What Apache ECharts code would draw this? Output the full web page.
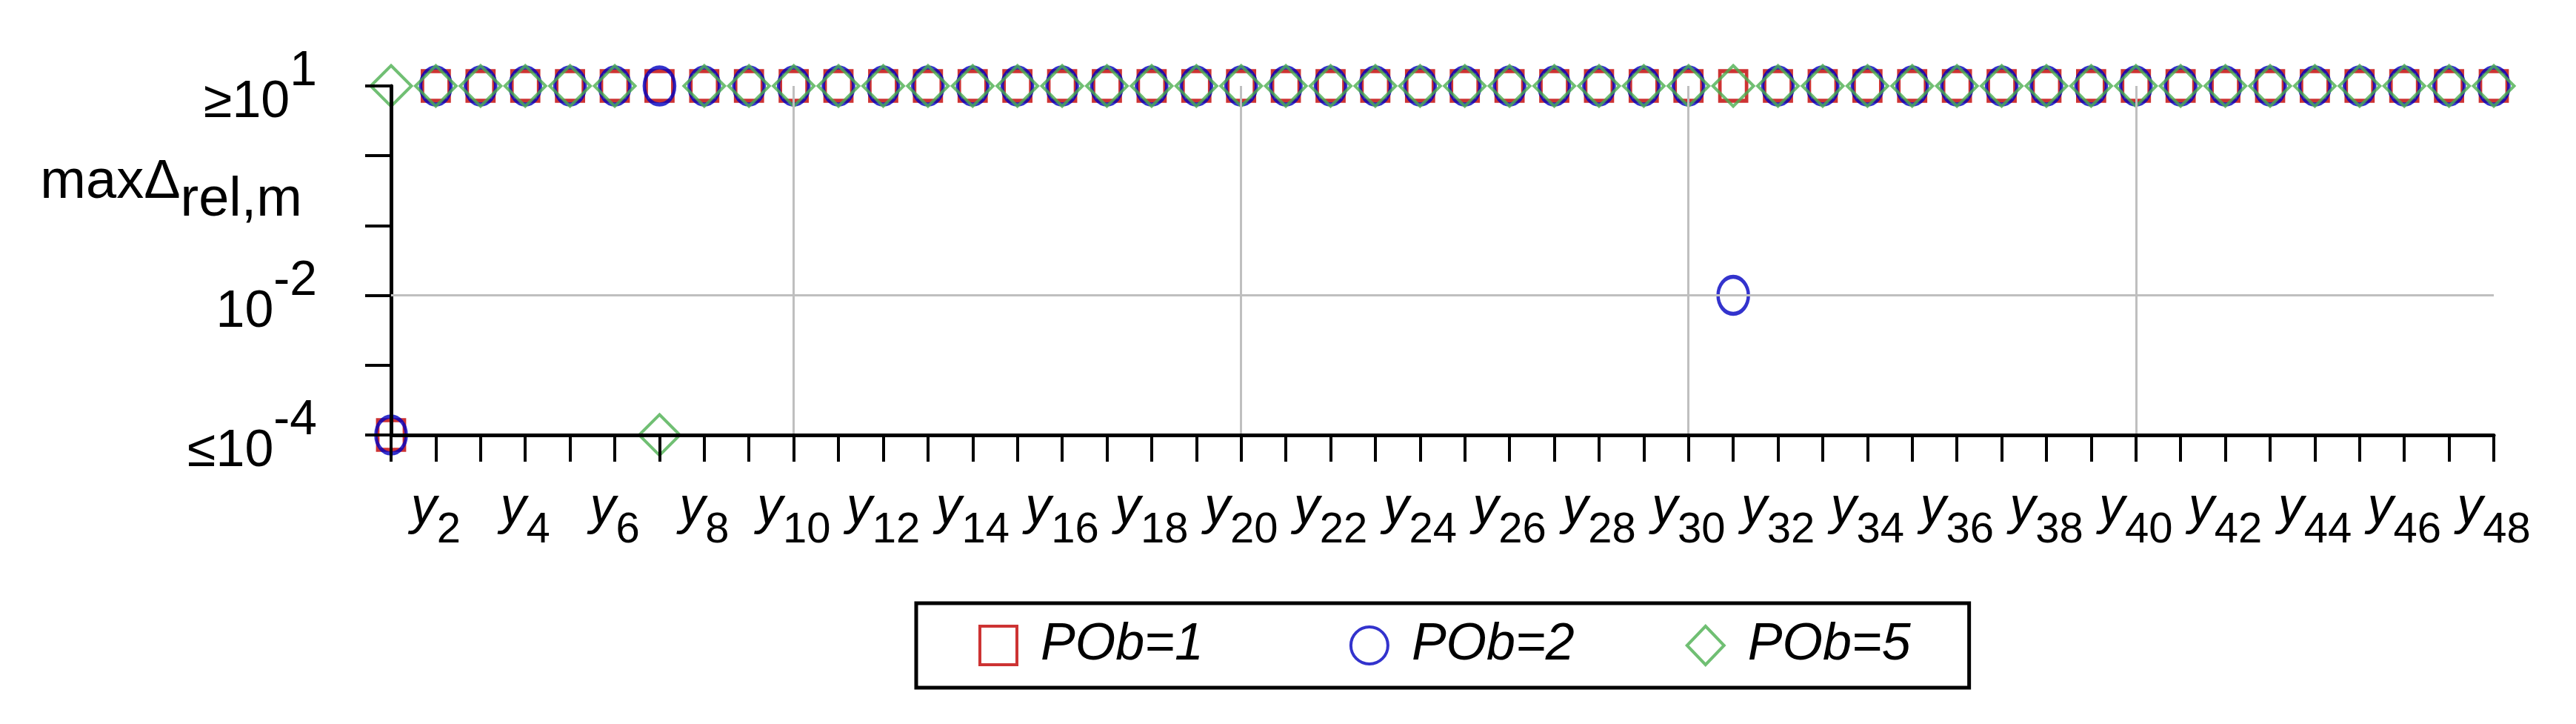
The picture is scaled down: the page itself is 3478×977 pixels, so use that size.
<!DOCTYPE html>
<html>
<head>
<meta charset="utf-8">
<title>maxΔrel,m per output</title>
<script src="https://cdn.jsdelivr.net/npm/echarts@6/dist/echarts.min.js"></script>
<style>
    html, body { margin: 0; padding: 0; background: #fff; }
    #chart { width: 3478px; height: 977px; }
</style>
</head>
<body>
<div id="chart"></div>
<script>
    // outputs y1 .. y48
    const categories = [
        'y1', 'y2', 'y3', 'y4', 'y5', 'y6', 'y7', 'y8', 'y9', 'y10', 'y11', 'y12',
        'y13', 'y14', 'y15', 'y16', 'y17', 'y18', 'y19', 'y20', 'y21', 'y22', 'y23', 'y24',
        'y25', 'y26', 'y27', 'y28', 'y29', 'y30', 'y31', 'y32', 'y33', 'y34', 'y35', 'y36',
        'y37', 'y38', 'y39', 'y40', 'y41', 'y42', 'y43', 'y44', 'y45', 'y46', 'y47', 'y48'
    ];

    // max relative deviation, clipped to [1e-4, 1e1]
    const pob1 = [
        1e-4, 10, 10, 10, 10, 10, 10, 10, 10, 10, 10, 10,
        10, 10, 10, 10, 10, 10, 10, 10, 10, 10, 10, 10,
        10, 10, 10, 10, 10, 10, 10, 10, 10, 10, 10, 10,
        10, 10, 10, 10, 10, 10, 10, 10, 10, 10, 10, 10
    ];
    const pob2 = [
        1e-4, 10, 10, 10, 10, 10, 10, 10, 10, 10, 10, 10,
        10, 10, 10, 10, 10, 10, 10, 10, 10, 10, 10, 10,
        10, 10, 10, 10, 10, 10, 0.01, 10, 10, 10, 10, 10,
        10, 10, 10, 10, 10, 10, 10, 10, 10, 10, 10, 10
    ];
    const pob5 = [
        10, 10, 10, 10, 10, 10, 1e-4, 10, 10, 10, 10, 10,
        10, 10, 10, 10, 10, 10, 10, 10, 10, 10, 10, 10,
        10, 10, 10, 10, 10, 10, 10, 10, 10, 10, 10, 10,
        10, 10, 10, 10, 10, 10, 10, 10, 10, 10, 10, 10
    ];

    // labelled decades on the y axis (exponent -> prefix)
    const yLabelExps = [1, -2, -4];
    const yLabelPrefix = ['\u2265', '', '\u2264'];

    const FONT = '"Liberation Sans", Arial, sans-serif';
    const RED = '#c00000';
    const BLUE = '#0000c0';
    const GREEN = '#4caf50';

    const chart = echarts.init(document.getElementById('chart'));

    function hollow (name, data, symbol, size, color, width) {
        return {
            name: name,
            type: 'scatter',
            data: data,
            symbol: symbol,
            symbolSize: size,
            clip: false,
            z: 2,
            itemStyle: { color: 'rgba(0,0,0,0)', borderColor: color, borderWidth: width },
            emphasis: { disabled: true }
        };
    }

    const s2 = hollow('POb=2', pob2, 'circle', [41, 50], BLUE, 5);
    // horizontal grid line at 10^-2
    s2.markLine = {
        silent: true,
        symbol: 'none',
        label: { show: false },
        lineStyle: { color: '#bfbfbf', width: 3, type: 'solid' },
        data: [{ yAxis: 0.01 }]
    };

    // legend entries (uneven spacing like the original)
    const legendItem = function (name, color, width, gapRight) {
        return {
            name: name,
            itemStyle: { color: 'rgba(0,0,0,0)', borderColor: color, borderWidth: width },
            textStyle: { padding: [0, gapRight, 0, 27] }
        };
    };

    chart.setOption({
        animation: false,
        backgroundColor: '#fff',
        textStyle: { fontFamily: FONT },
        grid: { left: 528, right: 111, top: 116, bottom: 390 },
        legend: {
            left: 1237,
            top: 814,
            padding: [22, 79, 22, 84],
            borderColor: '#000',
            borderWidth: 5,
            itemWidth: 50,
            itemHeight: 52,
            itemGap: 150,
            itemStyle: { borderWidth: 4 },
            textStyle: {
                fontFamily: FONT, fontSize: 70, fontStyle: 'italic', color: '#000',
                lineHeight: 60
            },
            data: [
                legendItem('POb=1', RED, 4, 47),
                legendItem('POb=2', BLUE, 4, 0),
                legendItem('POb=5', GREEN, 4, 0)
            ]
        },
        xAxis: {
            type: 'category',
            data: categories,
            boundaryGap: false,
            z: 3,
            axisLine: { lineStyle: { color: '#000', width: 5 } },
            axisTick: { interval: 0, length: 36, lineStyle: { color: '#000', width: 4 } },
            axisLabel: {
                interval: function (i) { return i % 2 === 1; },
                margin: 65,
                formatter: function (v) { return '{m|y}{s|' + v.slice(1) + '}'; },
                rich: {
                    m: { fontFamily: FONT, fontSize: 70, fontStyle: 'italic', color: '#000', verticalAlign: 'top' },
                    s: { fontFamily: FONT, fontSize: 58, color: '#000', verticalAlign: 'top', padding: [35, 0, 0, 0] }
                }
            },
            splitLine: {
                show: true,
                interval: function (i) { return i % 10 === 9; },
                lineStyle: { color: '#bfbfbf', width: 3 }
            }
        },
        yAxis: {
            type: 'log',
            logBase: 10,
            min: 1e-4,
            max: 10,
            z: 3,
            name: '{b|max\u0394}{s|rel,m}',
            nameLocation: 'end',
            nameGap: -94,
            nameTextStyle: {
                align: 'right',
                verticalAlign: 'top',
                padding: [0, 120, 0, 0],
                rich: {
                    b: { fontFamily: FONT, fontSize: 74, color: '#000', verticalAlign: 'top' },
                    s: { fontFamily: FONT, fontSize: 74, color: '#000', verticalAlign: 'top', padding: [24, 0, 0, 0] }
                }
            },
            axisLine: { show: true, lineStyle: { color: '#000', width: 5 } },
            axisTick: { show: true, length: 35, lineStyle: { color: '#000', width: 4 } },
            axisLabel: {
                margin: 100,
                padding: [6, 0, 0, 0],
                formatter: function (v) {
                    const e = Math.round(Math.log10(v));
                    const k = yLabelExps.indexOf(e);
                    if (k < 0) return '';
                    return '{b|' + yLabelPrefix[k] + '10}{s|' + e + '}';
                },
                rich: {
                    b: { fontFamily: FONT, fontSize: 70, color: '#000', verticalAlign: 'top', padding: [40, 0, 0, 0] },
                    s: { fontFamily: FONT, fontSize: 66, color: '#000', verticalAlign: 'top' }
                }
            },
            splitLine: { show: false }
        },
        series: [
            hollow('POb=1', pob1, 'rect', [36, 40], RED, 5),
            s2,
            hollow('POb=5', pob5, 'diamond', [55, 55], GREEN, 4)
        ]
    });
</script>
</body>
</html>
